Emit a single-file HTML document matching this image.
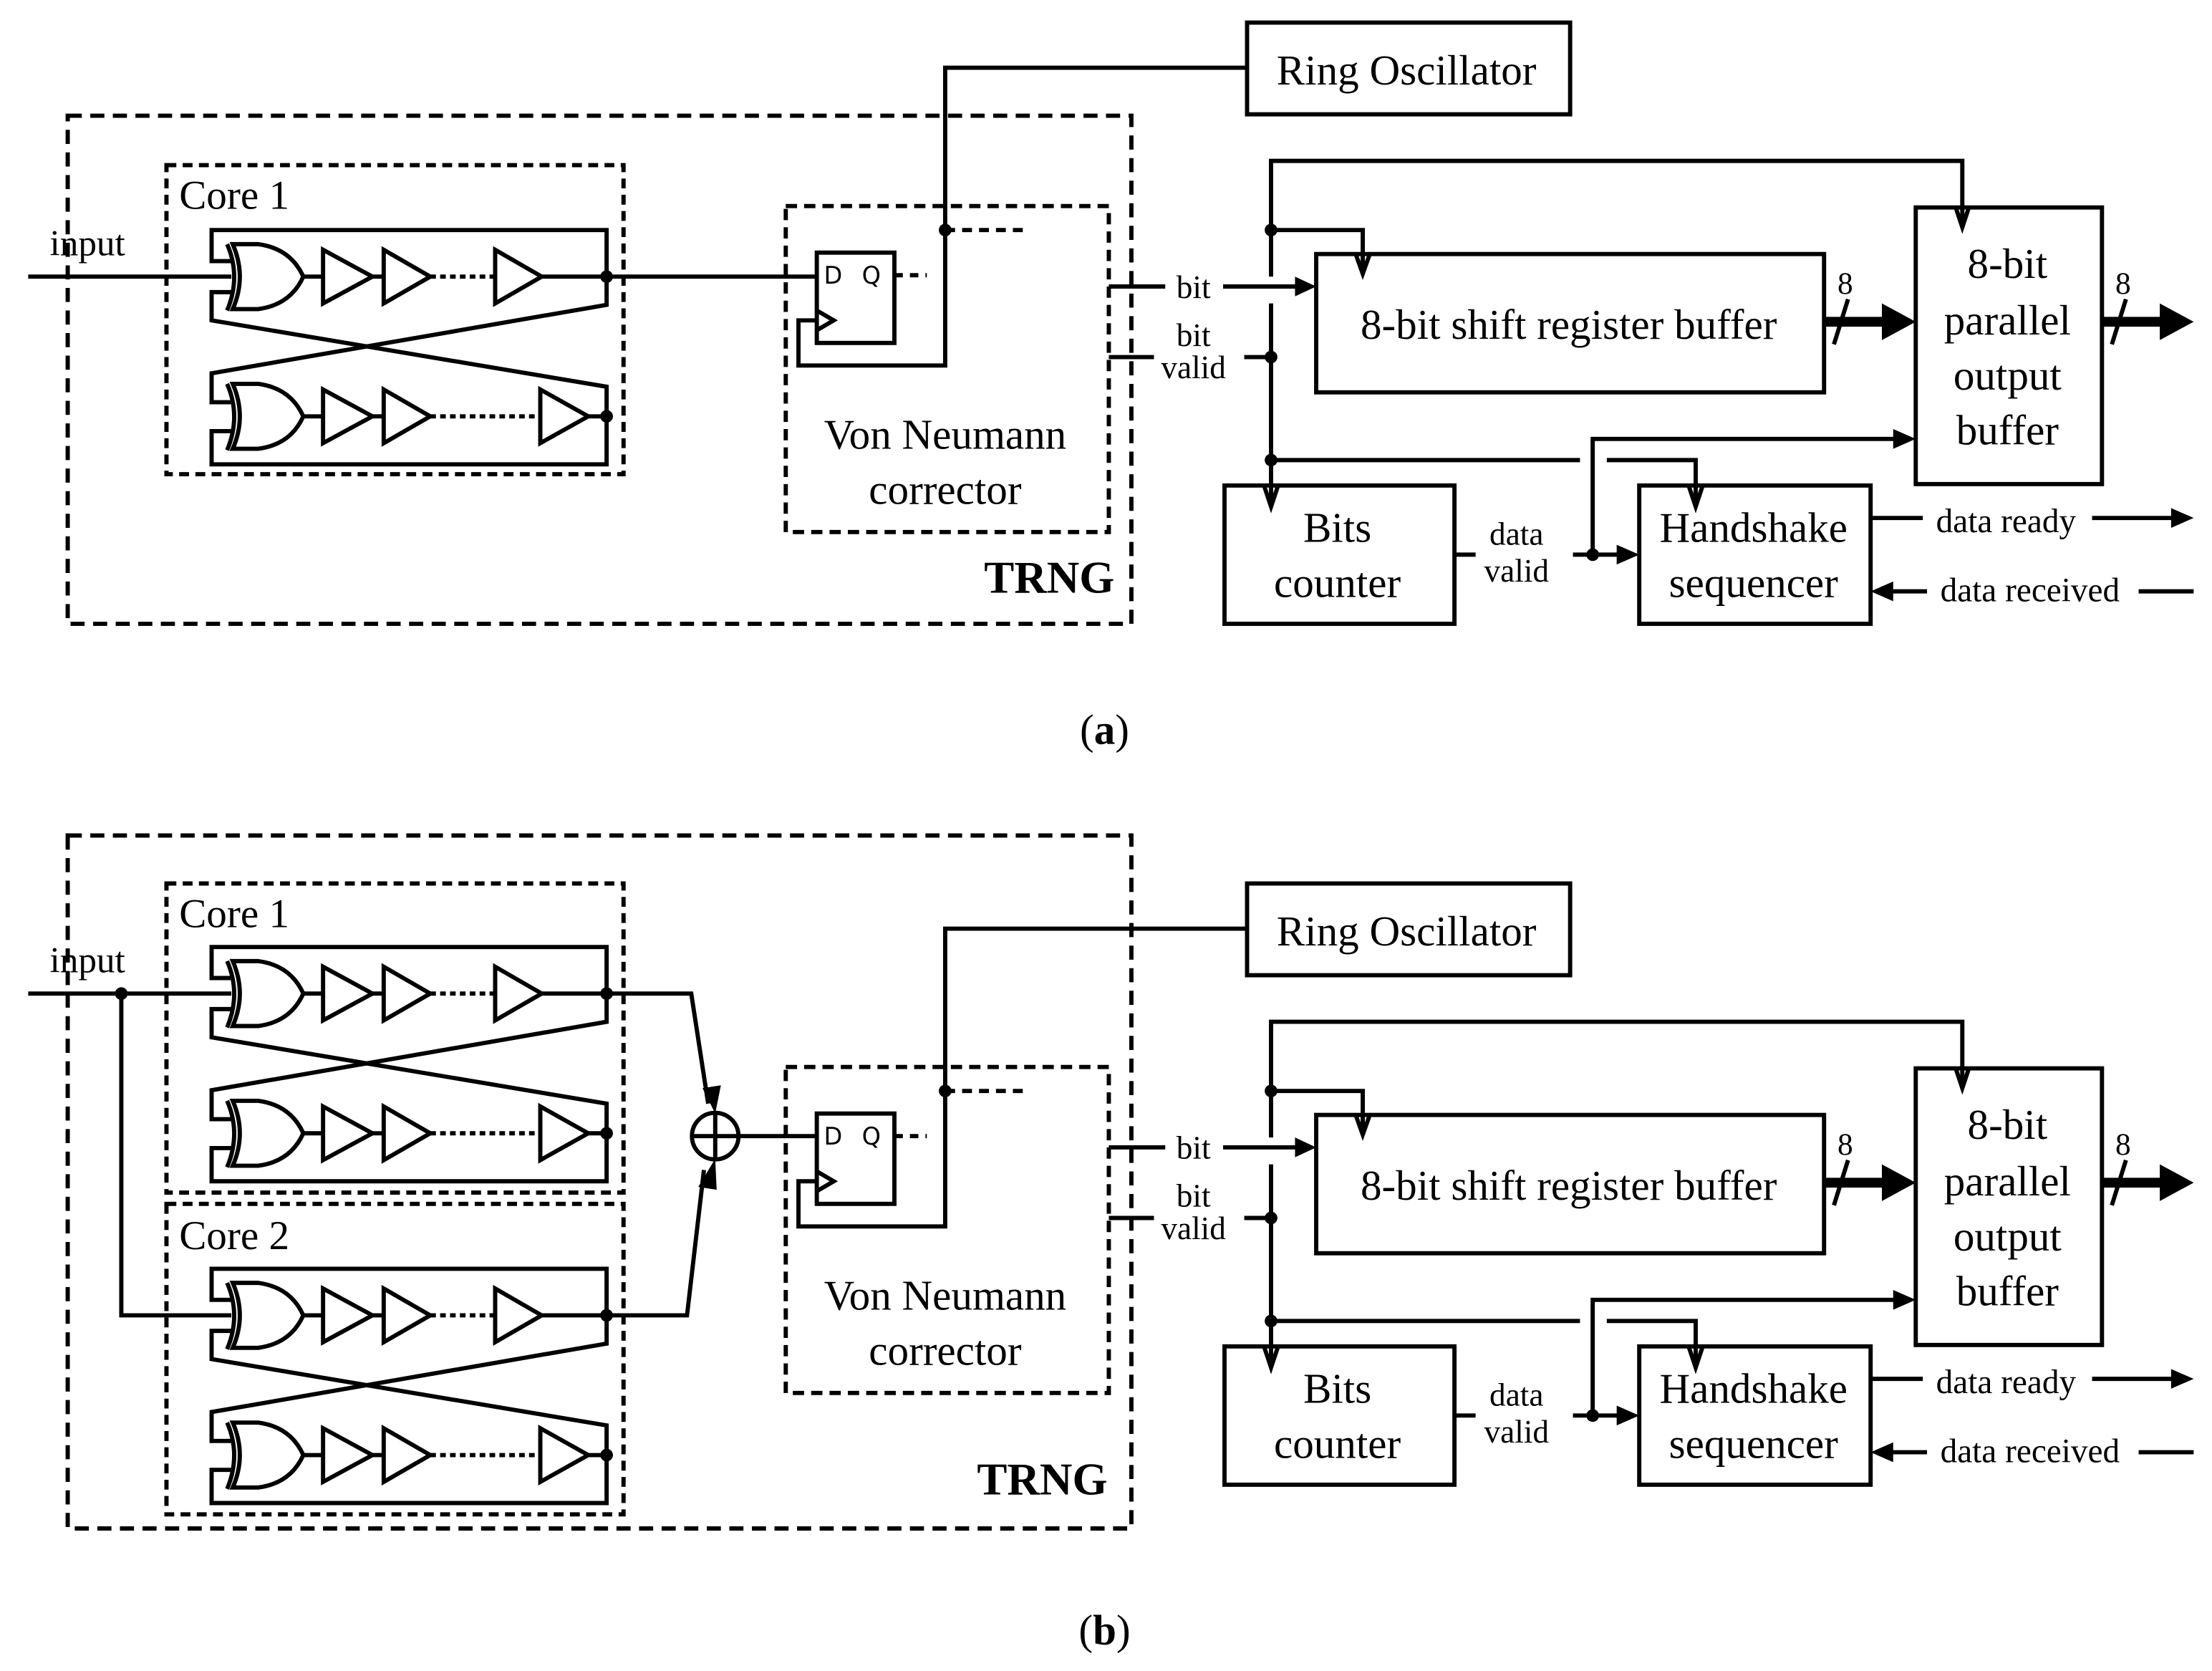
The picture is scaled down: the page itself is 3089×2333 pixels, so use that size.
<!DOCTYPE html>
<html><head><meta charset="utf-8"><style>
html,body{margin:0;padding:0;background:#fff;}
svg{display:block;}
text{font-family:"Liberation Serif",serif;fill:#000;}
</style></head><body>
<svg width="3089" height="2333" viewBox="0 0 1568 1184" preserveAspectRatio="none" xmlns="http://www.w3.org/2000/svg">
<defs>
<g id="gate">
  <path d="M161,173 Q171,196 161,220" fill="none" stroke="#000" stroke-width="3"/>
  <path d="M165,173 H183 Q206,176 215,196 Q206,216 183,219 H165 Q175,196 165,173 Z" fill="#fff" stroke="#000" stroke-width="3"/>
</g>
<g id="ring" fill="none" stroke="#000" stroke-width="3" stroke-linejoin="miter">
  <path d="M166,185 H150 V163 H430 V216 L150,264.5 V285 H166"/>
  <path d="M166,207 H150 V227 L430,274 L430,329 H150 V305.5 H166"/>
  <use href="#gate"/>
  <line x1="215" y1="196" x2="229" y2="196"/>
  <polygon points="229,177 229,215 264,196" fill="#fff"/>
  <line x1="264" y1="196" x2="272" y2="196"/>
  <polygon points="272,177 272,215 305,196" fill="#fff"/>
  <line x1="305" y1="196" x2="351" y2="196" stroke-dasharray="4,3"/>
  <polygon points="351,177 351,215 384,196" fill="#fff"/>
  <line x1="384" y1="196" x2="430" y2="196"/>
  <circle cx="430" cy="196" r="4.5" fill="#000" stroke="none"/>
  <g transform="translate(0,99)">
    <use href="#gate"/>
    <line x1="215" y1="196" x2="229" y2="196"/>
    <polygon points="229,177 229,215 264,196" fill="#fff"/>
    <line x1="264" y1="196" x2="272" y2="196"/>
    <polygon points="272,177 272,215 305,196" fill="#fff"/>
    <line x1="305" y1="196" x2="383" y2="196" stroke-dasharray="4,3"/>
    <polygon points="383,177 383,215 417,196" fill="#fff"/>
    <line x1="417" y1="196" x2="430" y2="196"/>
    <circle cx="430" cy="196" r="4.5" fill="#000" stroke="none"/>
  </g>
</g>
<g id="mid" fill="none" stroke="#000" stroke-width="3">
  <rect x="557" y="146" width="229" height="231" stroke-dasharray="8,5"/>
  <rect x="579" y="179" width="55" height="64" fill="#fff"/>
  <text x="584" y="201" font-size="17" stroke="none" fill="#000" style="font-family:'DejaVu Sans',sans-serif">D</text>
  <text x="611" y="201" font-size="17" stroke="none" fill="#000" style="font-family:'DejaVu Sans',sans-serif">Q</text>
  <path d="M579,220 L591,227 L579,234"/>
  <line x1="634" y1="195" x2="657" y2="195" stroke-dasharray="6,5"/>
  <path d="M579,227 H566 V259 H670 V48 H884"/>
  <circle cx="670" cy="163" r="4.5" fill="#000" stroke="none"/>
  <line x1="670" y1="163" x2="726" y2="163" stroke-dasharray="7,5"/>
  <rect x="884" y="16" width="229" height="65"/>
  <text x="997" y="60" font-size="30" text-anchor="middle" stroke="none" fill="#000">Ring Oscillator</text>
  <text x="670" y="318" font-size="30" text-anchor="middle" stroke="none" fill="#000">Von Neumann</text>
  <text x="670" y="357" font-size="30" text-anchor="middle" stroke="none" fill="#000">corrector</text>
</g>
<g id="right" fill="none" stroke="#000" stroke-width="3">
  <path d="M901,196 V114 H1391 V160"/>
  <path d="M1386,146 L1391,161 L1396,146"/>
  <path d="M901,215 V357"/>
  <path d="M896,344 L901,359 L906,344"/>
  <path d="M901,163 H966 V192"/>
  <path d="M961,180 L966,194 L971,180"/>
  <circle cx="901" cy="163" r="4.5" fill="#000" stroke="none"/>
  <circle cx="901" cy="253" r="4.5" fill="#000" stroke="none"/>
  <circle cx="901" cy="326" r="4.5" fill="#000" stroke="none"/>
  <path d="M901,326 H1120"/>
  <path d="M1139,326 H1202 V357"/>
  <path d="M1197,344 L1202,359 L1207,344"/>
  <rect x="933" y="180" width="360" height="98"/>
  <text x="1112" y="240" font-size="30" text-anchor="middle" stroke="none" fill="#000">8-bit shift register buffer</text>
  <path d="M786,203 H826"/>
  <text x="846" y="211" font-size="23" text-anchor="middle" stroke="none" fill="#000">bit</text>
  <path d="M867,203 H922"/>
  <polygon points="918,196 933,203 918,210" fill="#000" stroke="none"/>
  <path d="M786,253 H818"/>
  <text x="846" y="245" font-size="23" text-anchor="middle" stroke="none" fill="#000">bit</text>
  <text x="846" y="268" font-size="23" text-anchor="middle" stroke="none" fill="#000">valid</text>
  <path d="M882,253 H901"/>
  <rect x="1358" y="147" width="132" height="196"/>
  <text x="1423" y="197" font-size="30" text-anchor="middle" stroke="none" fill="#000">8-bit</text>
  <text x="1423" y="237" font-size="30" text-anchor="middle" stroke="none" fill="#000">parallel</text>
  <text x="1423" y="276" font-size="30" text-anchor="middle" stroke="none" fill="#000">output</text>
  <text x="1423" y="315" font-size="30" text-anchor="middle" stroke="none" fill="#000">buffer</text>
  <path d="M1293,228 H1338" stroke-width="7"/>
  <polygon points="1334,215 1358,228 1334,241" fill="#000" stroke="none"/>
  <line x1="1300" y1="244" x2="1310" y2="212"/>
  <text x="1308" y="208" font-size="22" text-anchor="middle" stroke="none" fill="#000">8</text>
  <path d="M1490,228 H1534" stroke-width="7"/>
  <polygon points="1531,215 1555,228 1531,241" fill="#000" stroke="none"/>
  <line x1="1497" y1="244" x2="1507" y2="212"/>
  <text x="1505" y="208" font-size="22" text-anchor="middle" stroke="none" fill="#000">8</text>
  <rect x="868" y="344" width="163" height="98"/>
  <text x="948" y="384" font-size="30" text-anchor="middle" stroke="none" fill="#000">Bits</text>
  <text x="948" y="423" font-size="30" text-anchor="middle" stroke="none" fill="#000">counter</text>
  <rect x="1162" y="344" width="164" height="98"/>
  <text x="1243" y="384" font-size="30" text-anchor="middle" stroke="none" fill="#000">Handshake</text>
  <text x="1243" y="423" font-size="30" text-anchor="middle" stroke="none" fill="#000">sequencer</text>
  <path d="M1031,393 H1046"/>
  <text x="1075" y="386" font-size="23" text-anchor="middle" stroke="none" fill="#000">data</text>
  <text x="1075" y="412" font-size="23" text-anchor="middle" stroke="none" fill="#000">valid</text>
  <path d="M1115,393 H1150"/>
  <polygon points="1146,386 1162,393 1146,400" fill="#000" stroke="none"/>
  <circle cx="1129" cy="393" r="4.5" fill="#000" stroke="none"/>
  <path d="M1129,393 V311 H1345"/>
  <polygon points="1342,304 1358,311 1342,318" fill="#000" stroke="none"/>
  <path d="M1326,367 H1363"/>
  <text x="1422" y="377" font-size="24" text-anchor="middle" stroke="none" fill="#000">data ready</text>
  <path d="M1483,367 H1542"/>
  <polygon points="1539,360 1555,367 1539,374" fill="#000" stroke="none"/>
  <polygon points="1342,412 1326,419 1342,426" fill="#000" stroke="none"/>
  <path d="M1340,419 H1366"/>
  <text x="1439" y="426" font-size="24" text-anchor="middle" stroke="none" fill="#000">data received</text>
  <path d="M1516,419 H1555"/>
</g>
</defs>

<!-- (a) -->
<rect x="48" y="82" width="754" height="360" fill="none" stroke="#000" stroke-width="3" stroke-dasharray="10,6"/>
<rect x="118" y="117" width="324" height="219" fill="none" stroke="#000" stroke-width="3" stroke-dasharray="7,4.5"/>
<text x="127" y="148" font-size="29">Core 1</text>
<text x="62" y="181" font-size="26" text-anchor="middle">input</text>
<use href="#ring"/>
<path d="M20,196 H164 M430,196 H579" stroke="#000" stroke-width="3" fill="none"/>
<use href="#mid"/>
<text x="790" y="420" font-size="32" font-weight="bold" text-anchor="end">TRNG</text>
<use href="#right"/>
<text x="783" y="527" font-size="30" text-anchor="middle">(<tspan font-weight="bold">a</tspan>)</text>

<!-- (b) -->
<rect x="48" y="592" width="754" height="491" fill="none" stroke="#000" stroke-width="3" stroke-dasharray="10,6"/>
<rect x="118" y="626" width="324" height="219" fill="none" stroke="#000" stroke-width="3" stroke-dasharray="7,4.5"/>
<rect x="118" y="853" width="324" height="220" fill="none" stroke="#000" stroke-width="3" stroke-dasharray="7,4.5"/>
<text x="127" y="657" font-size="29">Core 1</text>
<text x="127" y="885" font-size="29">Core 2</text>
<text x="62" y="689" font-size="26" text-anchor="middle">input</text>
<use href="#ring" transform="translate(0,508)"/>
<use href="#ring" transform="translate(0,736)"/>
<g stroke="#000" stroke-width="3" fill="none">
  <path d="M20,704 H164"/>
  <path d="M86,704 V932 H164"/>
  <path d="M430,704 H490 L502,782"/>
  <path d="M430,932 H487 L499,829"/>
  <circle cx="507" cy="805" r="16.5"/>
  <path d="M490,805 H524 M507,788 V822"/>
  <path d="M524,805 H579"/>
</g>
<circle cx="86" cy="704" r="4.5"/>
<polygon points="498,771 507,789 511,769" fill="#000"/>
<polygon points="495,841 507,821 508,843" fill="#000"/>
<use href="#mid" transform="translate(0,610)"/>
<text x="785" y="1059" font-size="32" font-weight="bold" text-anchor="end">TRNG</text>
<use href="#right" transform="translate(0,610)"/>
<text x="783" y="1165" font-size="30" text-anchor="middle">(<tspan font-weight="bold">b</tspan>)</text>
</svg>
</body></html>
